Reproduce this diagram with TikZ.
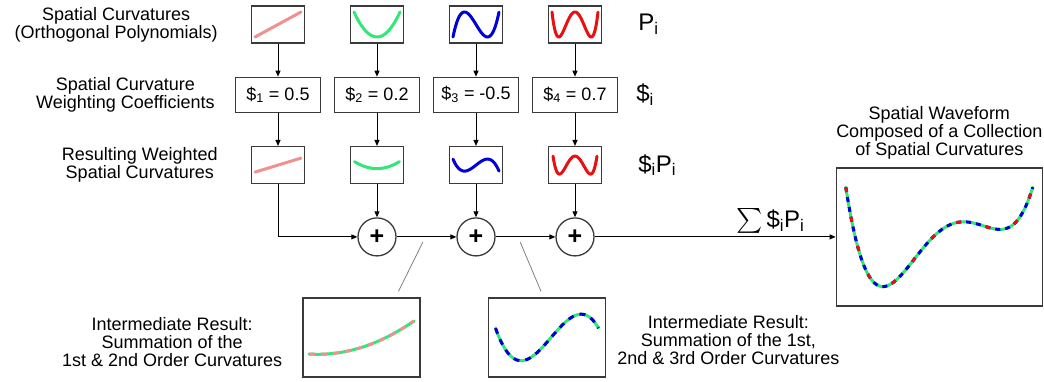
\documentclass[tikz,border=0pt]{standalone}
\usepackage{exscale}
\usepackage{fontspec}
\setmainfont{Liberation Sans}
\usetikzlibrary{arrows.meta,positioning,calc}
\definecolor{Frame}{HTML}{3A3A3A}
\definecolor{Pink}{HTML}{F09090}
\definecolor{Lime}{HTML}{30E878}
\definecolor{Blu}{HTML}{0000D8}
\definecolor{Rd}{HTML}{E81010}
\definecolor{Pointer}{HTML}{808080}
\newcommand{\lbl}{\fontsize{18}{18}\selectfont}
\newcommand{\sym}{\fontsize{24}{24}\selectfont}
\tikzset{
  curvebox/.style={draw=Frame,line width=1.3pt,minimum width=53pt,minimum height=37pt,inner sep=0pt},
  coefbox/.style={draw=Frame,line width=1.3pt,minimum width=85pt,minimum height=35pt,inner sep=0pt,font=\lbl},
  adder/.style={circle,draw=Frame,line width=1.3pt,minimum size=38pt,inner sep=0pt,font=\fontsize{25}{25}\selectfont\bfseries},
  plotbox/.style={draw=Frame,line width=1.3pt,minimum width=117pt,minimum height=79pt,inner sep=0pt},
  wavebox/.style={draw=Frame,line width=1.3pt,minimum width=206pt,minimum height=138pt,inner sep=0pt},
  caption/.style={align=center,font=\lbl,inner sep=0pt},
  symbol/.style={font=\sym,inner sep=0pt},
  arrow/.style={-{Triangle[length=6pt,width=5pt]},line width=1pt,draw=black},
  pointer/.style={line width=0.8pt,draw=Pointer},
  trace/.style={line width=3pt,line cap=round},
  overlay/.style={line width=3pt,line cap=butt}
}

\begin{document}
\begin{tikzpicture}[x=1pt,y=-1pt,node distance=33pt,
  declare function={chebthree(\x)=4*\x*\x*\x-3*\x;
    chebfour(\x)=8*\x*\x*\x*\x-8*\x*\x+1;
    sumone(\x)=0.3*\x*\x+0.5*\x-0.1;
    sumtwo(\x)=-1.25*\x*\x*\x+0.3*\x*\x+1.25*\x-0.1;
    sumall(\x)=3.0625*\x*\x*\x*\x-1.25*\x*\x*\x-2.325*\x*\x+1.25*\x+0.1625;}]
  \useasboundingbox (0,0) rectangle (1044,381);

  % curvature boxes
  \node[curvebox] (p1) at (278,24.5) {};
  \node[curvebox,right=44.7pt of p1] (p2) {};
  \node[curvebox,right=44.7pt of p2] (p3) {};
  \node[curvebox,right=44.7pt of p3] (p4) {};

  \node[coefbox,below=of p1] (c1) {\$\textsubscript{1} = 0.5};
  \node[coefbox,below=of p2] (c2) {\$\textsubscript{2} = 0.2};
  \node[coefbox,below=of p3] (c3) {\$\textsubscript{3} = -0.5};
  \node[coefbox,below=of p4] (c4) {\$\textsubscript{4} = 0.7};

  \node[curvebox,below=of c1] (w1) {};
  \node[curvebox,below=of c2] (w2) {};
  \node[curvebox,below=of c3] (w3) {};
  \node[curvebox,below=of c4] (w4) {};

  \node[adder,below=of w2] (add2) {+};
  \node[adder,below=of w3] (add3) {+};
  \node[adder,below=of w4] (add4) {+};

  \node[wavebox,right=241pt of add4] (final) {};
  \node[plotbox] (int1) at (361.5,337.5) {};
  \node[plotbox] (int2) at (547,337.5) {};

  % labels
  \node[caption,left=33pt of p1] (lblp) {Spatial Curvatures\\(Orthogonal Polynomials)};
  \node[caption,left=20pt of c1] (lblc) {Spatial Curvature\\Weighting Coefficients};
  \node[caption,left=33pt of w1] (lblw) {Resulting Weighted\\Spatial Curvatures};
  \node[symbol,right=36pt of p4] (symp) {P\textsubscript{i}};
  \node[symbol,right=18pt of c4] (symc) {\$\textsubscript{i}};
  \node[symbol,right=36pt of w4] (symw) {\$\textsubscript{i}P\textsubscript{i}};
  \node[symbol,above left=3pt and 31pt of final.west] (total) {$\sum$\,\$\textsubscript{i}P\textsubscript{i}};
  \node[caption,above=8pt of final] (title) {Spatial Waveform\\Composed of a Collection\\of Spatial Curvatures};
  \node[caption,left=20pt of int1,yshift=-5pt] (note1) {Intermediate Result:\\Summation of the\\1st \& 2nd Order Curvatures};
  \node[caption,right=11pt of int2,yshift=-3pt] (note2) {Intermediate Result:\\Summation of the 1st,\\2nd \& 3rd Order Curvatures};

  % connectors
  \foreach \k in {1,2,3,4}{
    \draw[arrow] (p\k) -- (c\k);
    \draw[arrow] (c\k) -- (w\k);
  }
  \foreach \k in {2,3,4}{
    \draw[arrow] (w\k) -- (add\k);
  }
  \draw[arrow] (w1.south) |- (add2.west);
  \draw[arrow] (add2) -- (add3);
  \draw[arrow] (add3) -- (add4);
  \draw[arrow] (add4) -- (final);

  \coordinate (tap1) at ($(add2.east)!0.44!(add3.west)+(0,5)$);
  \coordinate (tap2) at ($(add3.east)!0.41!(add4.west)+(0,5)$);
  \coordinate (end1) at ($(int1.north)+(37,-6)$);
  \coordinate (end2) at ($(int2.north)+(-6,-6)$);
  \draw[pointer] (tap1) -- (end1);
  \draw[pointer] (tap2) -- (end2);

  % curves
  \draw[trace,Pink,shift={(p1.center)}] plot[domain=-1:1,samples=20] ({\x*23},{-12.5*\x});
  \draw[trace,Lime,shift={(p2.center)}] plot[domain=-1:1,samples=40,smooth] ({\x*23},{-12.5*(2*\x*\x-1)});
  \draw[trace,Blu,shift={(p3.center)}] plot[domain=-1:1,samples=50,smooth] ({\x*23},{-12.5*chebthree(\x)});
  \draw[trace,Rd,shift={(p4.center)}] plot[domain=-1:1,samples=60,smooth] ({\x*23},{-12.5*chebfour(\x)});

  \draw[trace,Pink,shift={(w1.center)}] plot[domain=-1:1,samples=20] ({\x*23},{-7*\x});
  \draw[trace,Lime,shift={(w2.center)}] plot[domain=-1:1,samples=40,smooth] ({\x*22.5},{-3.5*(2*\x*\x-1)});
  \draw[trace,Blu,shift={(w3.center)}] plot[domain=-1:1,samples=50,smooth] ({\x*23},{6*chebthree(\x)});
  \draw[trace,Rd,shift={(w4.center)}] plot[domain=-1:1,samples=60,smooth] ({\x*22},{-9*chebfour(\x)});

  \draw[trace,Lime,shift={(int1.center)}] plot[domain=-1:1,samples=50,smooth] ({\x*52.5},{-33*(sumone(\x)-0.2)});
  \draw[overlay,Pink,dash pattern=on 6pt off 6pt,shift={(int1.center)}] plot[domain=-1:1,samples=50,smooth] ({\x*52.5},{-33*(sumone(\x)-0.2)});

  \draw[trace,Lime,shift={(int2.center)}] plot[domain=-1:1,samples=60,smooth] ({\x*51.5},{-47*sumtwo(\x)});
  \draw[overlay,Blu,dash pattern=on 6pt off 6pt,shift={(int2.center)}] plot[domain=-1:1,samples=60,smooth] ({\x*51.5},{-47*sumtwo(\x)});

  \draw[trace,Lime,shift={(final.center)}] plot[domain=-1:1,samples=80,smooth] ({\x*93.5},{-60*(sumall(\x)-0.071)});
  \draw[overlay,Blu,dash pattern=on 5pt off 5pt,shift={(final.center)}] plot[domain=-1:1,samples=80,smooth] ({\x*93.5},{-60*(sumall(\x)-0.071)});
  \draw[overlay,Rd,dash pattern=on 5pt off 25pt,shift={(final.center)}] plot[domain=-1:1,samples=80,smooth] ({\x*93.5},{-60*(sumall(\x)-0.071)});
\end{tikzpicture}
\end{document}
